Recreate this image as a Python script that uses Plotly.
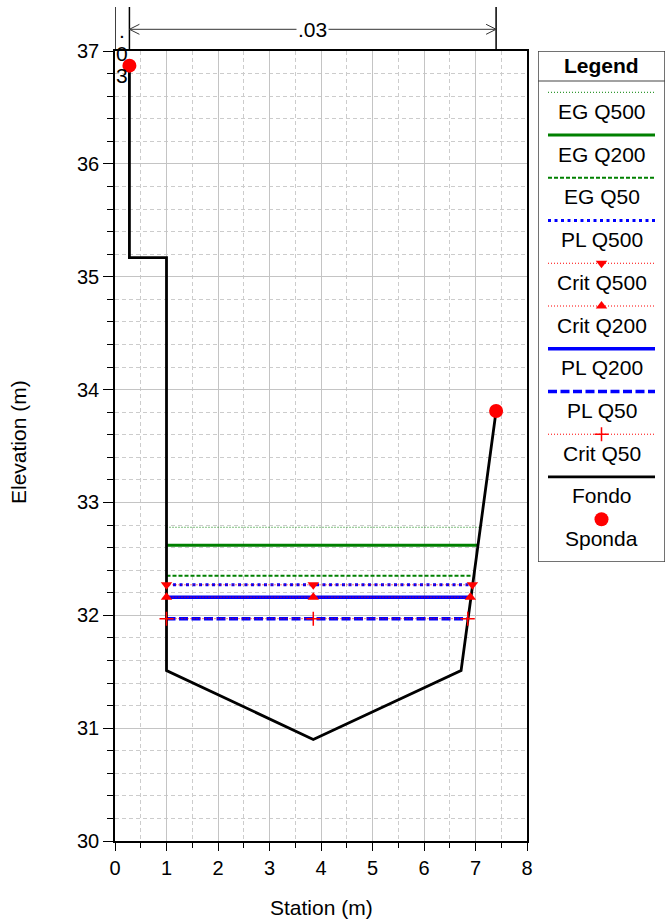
import plotly.graph_objects as go

# Ground profile (Fondo) and bank points (Sponda)
station = [0.28, 0.28, 1.00, 1.00, 3.85, 6.72, 7.40]
elevation = [36.87, 35.17, 35.17, 31.51, 30.90, 31.51, 33.81]
bank_station = [0.28, 7.40]
bank_elevation = [36.87, 33.81]

# Manning's n zones along the section
n_breaks = [0.00, 0.28, 7.40]
n_values = [".03", ".03"]

# Computed profiles
profiles = ["Q500", "Q200", "Q50"]
eg_elev = [32.78, 32.62, 32.35]
eg_right = [7.07, 7.05, 6.93]
ws_elev = [32.27, 32.16, 31.97]
ws_right = [6.94, 6.90, 6.85]
crit_elev = [32.27, 32.16, 31.97]
crit_right = [6.94, 6.90, 6.85]
left_edge = 1.00
thalweg = 3.85

x_ticks = [0, 1, 2, 3, 4, 5, 6, 7, 8]
y_ticks = [30, 31, 32, 33, 34, 35, 36, 37]

legend_order = ["EG Q500", "EG Q200", "EG Q50", "PL Q500", "Crit Q500",
                "Crit Q200", "PL Q200", "PL Q50", "Crit Q50", "Fondo", "Sponda"]

FONT = "Liberation Sans, Arial, sans-serif"
TXT = 21
GREEN, BLUE, RED, BLACK = "#008000", "#0000ff", "#ff0000", "#000000"

styles = {
    "EG Q500": dict(line=dict(color=GREEN, width=1, dash="1px,2px")),
    "EG Q200": dict(line=dict(color=GREEN, width=3)),
    "EG Q50": dict(line=dict(color=GREEN, width=2, dash="4px,2px")),
    "PL Q500": dict(line=dict(color=BLUE, width=3, dash="3px,3.5px")),
    "PL Q200": dict(line=dict(color=BLUE, width=3.5)),
    "PL Q50": dict(line=dict(color=BLUE, width=3.5, dash="9px,3.5px")),
    "Crit Q500": dict(line=dict(color=RED, width=1, dash="1px,2px"),
                      marker=dict(symbol="triangle-down", size=10, color=RED)),
    "Crit Q200": dict(line=dict(color=RED, width=1, dash="1px,2px"),
                      marker=dict(symbol="triangle-up", size=10, color=RED)),
    "Crit Q50": dict(line=dict(color=RED, width=1, dash="1px,2px"),
                     marker=dict(symbol="cross-thin", size=10,
                                 line=dict(color=RED, width=1.5))),
    "Fondo": dict(line=dict(color=BLACK, width=2.8)),
    "Sponda": dict(marker=dict(symbol="circle", size=14, color=RED)),
}

# Page geometry (pixels)
W, H = 668, 920
ML, MR, MT, MB = 115, 1, 51, 79
plot_w = 412
paper_w = W - ML - MR
paper_h = H - MT - MB


def py_to_paper(py):
    """Convert a pixel row of the page to a paper y coordinate."""
    return (H - MB - py) / paper_h


fig = go.Figure()

# Energy grade lines
for q, z, xr in zip(profiles, eg_elev, eg_right):
    fig.add_trace(go.Scatter(x=[left_edge, xr], y=[z, z], mode="lines",
                             line=styles["EG " + q]["line"], hoverinfo="skip"))
# Water surface lines
for q, z, xr in zip(profiles, ws_elev, ws_right):
    fig.add_trace(go.Scatter(x=[left_edge, xr], y=[z, z], mode="lines",
                             line=styles["PL " + q]["line"], hoverinfo="skip"))
# Ground
fig.add_trace(go.Scatter(x=station, y=elevation, mode="lines",
                         line=styles["Fondo"]["line"], hoverinfo="skip"))
# Critical depth lines
for q, z, xr in zip(profiles, crit_elev, crit_right):
    st = styles["Crit " + q]
    fig.add_trace(go.Scatter(x=[left_edge, thalweg, xr], y=[z, z, z],
                             mode="lines+markers", line=st["line"],
                             marker=st["marker"], hoverinfo="skip"))
# Bank points
fig.add_trace(go.Scatter(x=bank_station, y=bank_elevation, mode="markers",
                         marker=styles["Sponda"]["marker"], hoverinfo="skip"))

# ---- Legend panel drawn on its own pixel-scaled axes ----
LX0, LX1, LY0, LY1 = 538, 665, 51, 562
lw, lh = LX1 - LX0, LY1 - LY0
fig.update_layout(
    xaxis2=dict(domain=[(LX0 - ML) / paper_w, (LX1 - ML) / paper_w],
                range=[0, lw], visible=False, fixedrange=True, automargin=False),
    yaxis2=dict(domain=[py_to_paper(LY1), py_to_paper(LY0)],
                range=[lh, 0], visible=False, fixedrange=True, anchor="x2",
                automargin=False),
)
fig.add_shape(type="rect", xref="x2", yref="y2", x0=0, x1=lw, y0=0, y1=lh,
              line=dict(color="#444444", width=1.5), fillcolor="white", layer="below")
fig.add_shape(type="line", xref="x2", yref="y2", x0=0, x1=lw, y0=30, y1=30,
              line=dict(color="#444444", width=1.2))
fig.add_annotation(xref="x2", yref="y2", x=lw / 2, y=14, text="<b>Legend</b>",
                   showarrow=False, xanchor="center", yanchor="middle",
                   font=dict(size=TXT, family=FONT, color="black"))

sx0, sx1, sxm = 10, 117, 63.5
step = 42.74
for i, name in enumerate(legend_order):
    ly = 41.3 + step * i
    st = styles[name]
    if name == "Sponda":
        fig.add_trace(go.Scatter(x=[sxm], y=[ly - 0.5], xaxis="x2", yaxis="y2",
                                 mode="markers", marker=st["marker"], hoverinfo="skip"))
    else:
        fig.add_trace(go.Scatter(x=[sx0, sx1], y=[ly, ly], xaxis="x2", yaxis="y2",
                                 mode="lines", line=st["line"], hoverinfo="skip"))
        if "marker" in st:
            fig.add_trace(go.Scatter(x=[sxm], y=[ly], xaxis="x2", yaxis="y2",
                                     mode="markers", marker=st["marker"], hoverinfo="skip"))
    fig.add_annotation(xref="x2", yref="y2", x=sxm, y=ly + 19, text=name,
                       showarrow=False, xanchor="center", yanchor="middle",
                       font=dict(size=TXT, family=FONT, color="black"))

# ---- Manning's n zones above the plot ----
px_y = 1.0 / paper_h
y_top = py_to_paper(7)
y_arrow = py_to_paper(29.3)
for xb in n_breaks:
    fig.add_shape(type="line", xref="x", yref="paper", x0=xb, x1=xb, y0=1, y1=y_top,
                  line=dict(color=BLACK, width=1.5))
px_x = 8.0 / plot_w
for (xa, xb), nv in zip(zip(n_breaks[:-1], n_breaks[1:]), n_values):
    xm = (xa + xb) / 2
    if (xb - xa) / px_x < 40:
        # narrow zone: characters stacked vertically, one per line
        for ch, row in zip(nv, [30, 53, 75]):
            fig.add_annotation(xref="x", yref="paper", x=xm, y=py_to_paper(row),
                               text=ch, showarrow=False, xanchor="center", yanchor="middle",
                               font=dict(size=TXT, family=FONT, color=BLACK))
        continue
    fig.add_shape(type="line", xref="x", yref="paper", x0=xa, x1=xb,
                  y0=y_arrow, y1=y_arrow, line=dict(color="#333333", width=1))
    dx, dy = 10 * px_x, 5 * px_y
    fig.add_shape(type="path", xref="x", yref="paper",
                  path=f"M {xa + dx},{y_arrow + dy} L {xa},{y_arrow} L {xa + dx},{y_arrow - dy}",
                  line=dict(color="#333333", width=1))
    fig.add_shape(type="path", xref="x", yref="paper",
                  path=f"M {xb - dx},{y_arrow + dy} L {xb},{y_arrow} L {xb - dx},{y_arrow - dy}",
                  line=dict(color="#333333", width=1))
    fig.add_annotation(xref="x", yref="paper", x=xm, y=y_arrow, text=nv,
                       showarrow=False, bgcolor="white", borderpad=1,
                       xanchor="center", yanchor="middle",
                       font=dict(size=TXT, family=FONT, color=BLACK))

# ---- Axis titles ----
fig.add_annotation(xref="x domain", yref="paper", x=0.5, y=py_to_paper(907.5),
                   text="Station (m)", showarrow=False, xanchor="center", yanchor="middle",
                   font=dict(size=TXT, family=FONT, color=BLACK))
fig.add_annotation(xref="paper", yref="paper", x=(18 - ML) / paper_w, y=py_to_paper(442),
                   text="Elevation (m)", showarrow=False, textangle=-90,
                   xanchor="center", yanchor="middle",
                   font=dict(size=TXT, family=FONT, color=BLACK))

axis_common = dict(
    showline=True, linecolor=BLACK, linewidth=1.5, mirror=True,
    ticks="outside", tickcolor=BLACK, tickwidth=1, automargin=False,
    showgrid=True, gridcolor="#c4c4c4", gridwidth=1, zeroline=False,
    tickfont=dict(size=20, family=FONT, color=BLACK),
)
fig.update_layout(
    width=W, height=H, margin=dict(l=ML, r=MR, t=MT, b=MB, autoexpand=False),
    plot_bgcolor="white", paper_bgcolor="white", showlegend=False,
    font=dict(family=FONT, color=BLACK),
    xaxis=dict(domain=[0, plot_w / paper_w], range=[0, 8], tickvals=x_ticks, ticklen=8,
               minor=dict(dtick=0.5, tick0=0, ticks="outside", ticklen=5, tickcolor=BLACK,
                          showgrid=True, gridcolor="#cccccc", griddash="4px,3px"),
               **axis_common),
    yaxis=dict(range=[30, 37], tickvals=y_ticks, ticklen=10,
               minor=dict(dtick=0.2, tick0=30, ticks="outside", ticklen=6, tickcolor=BLACK,
                          showgrid=True, gridcolor="#cccccc", griddash="4px,3px"),
               **axis_common),
)

fig.write_html("out.html")
